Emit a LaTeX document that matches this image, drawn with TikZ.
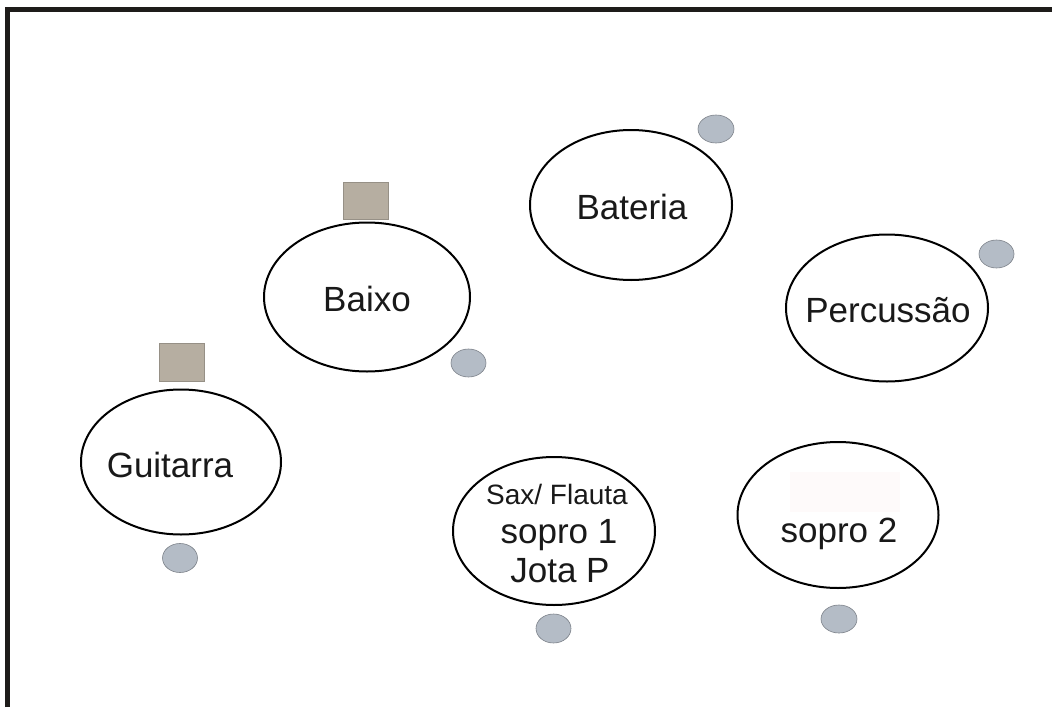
\documentclass[tikz,border=0pt]{standalone}
\usepackage{fontspec}
\setmainfont{Liberation Sans}
\usetikzlibrary{shapes.geometric}
\definecolor{amp}{RGB}{182,174,161}
\definecolor{ampline}{RGB}{150,144,134}
\definecolor{mon}{RGB}{180,188,198}
\definecolor{monline}{RGB}{125,130,138}
\definecolor{faint}{RGB}{254,250,250}
\definecolor{framec}{RGB}{30,28,26}
\begin{document}
\begin{tikzpicture}[x=1pt,y=-1pt,
  stage/.style={ellipse, draw=black, line width=2pt, fill=white, inner sep=0pt},
  lbl/.style={anchor=base, font=\fontsize{35}{40}\selectfont, inner sep=0pt, text=black!90},
  smalllbl/.style={anchor=base, font=\fontsize{28}{32}\selectfont, inner sep=0pt, text=black!90},
  ampbox/.style={draw=ampline, fill=amp, line width=0.6pt, minimum width=45pt, minimum height=38pt, inner sep=0pt},
  monitor/.style={ellipse, draw=monline, fill=mon, line width=0.6pt, minimum width=35pt, minimum height=29pt, inner sep=0pt}]
\useasboundingbox (0,0) rectangle (1052,707);
\fill[white] (0,0) rectangle (1052,707);
% frame
\draw[line width=5pt, framec, line join=miter] (7.5,707) -- (7.5,9.5) -- (1052,9.5);
% Guitarra
\node[stage, minimum width=200pt, minimum height=145pt] (guit) at (181,462) {};
\node[lbl] (guitT) at (170,477) {Guitarra};
\node[ampbox] (guitA) at (181.5,362) {};
\node[monitor] (guitM) at (180,558) {};
% Baixo
\node[stage, minimum width=206pt, minimum height=149pt] (baixo) at (367,297) {};
\node[lbl] (baixoT) at (367,311) {Baixo};
\node[ampbox, minimum height=37pt] (baixoA) at (365.5,200.5) {};
\node[monitor, minimum height=28pt] (baixoM) at (468.5,363) {};
% Bateria
\node[stage, minimum width=202pt, minimum height=150pt] (bat) at (631,205) {};
\node[lbl] (batT) at (632,219) {Bateria};
\node[monitor, minimum width=36pt, minimum height=28pt] (batM) at (716,129) {};
% Percussao
\node[stage, minimum width=202pt, minimum height=147pt] (perc) at (887,308) {};
\node[lbl] (percT) at (888,322) {Percussão};
\node[monitor, minimum height=28pt] (percM) at (996.5,254) {};
% Sax
\node[stage, minimum width=202pt, minimum height=148pt] (sax) at (554,531) {};
\node[smalllbl] (saxT1) at (557,504) {Sax/ Flauta};
\node[lbl] (saxT2) at (559,543) {sopro 1};
\node[lbl] (saxT3) at (560,582) {Jota P};
\node[monitor] (saxM) at (553.5,628.5) {};
% sopro 2
\node[stage, minimum width=201pt, minimum height=146pt] (sop) at (838,515) {};
\fill[faint] (790,472) rectangle (900,512);
\node[lbl] (sopT) at (839,542) {sopro 2};
\node[monitor, minimum width=36pt, minimum height=28pt] (sopM) at (839,619) {};
\end{tikzpicture}
\end{document}
